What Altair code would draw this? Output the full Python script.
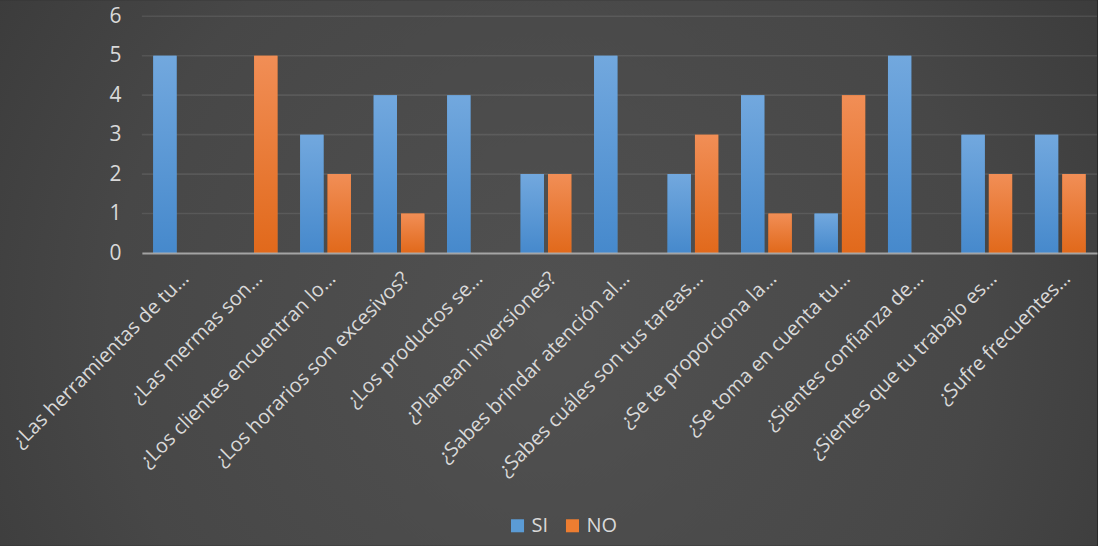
import altair as alt
import pandas as pd

# Survey questions (x categories) and answer counts per series
preguntas = [
    "¿Las herramientas de tu…",
    "¿Las mermas son…",
    "¿Los clientes encuentran lo…",
    "¿Los horarios son excesivos?",
    "¿Los productos se…",
    "¿Planean inversiones?",
    "¿Sabes brindar atención al…",
    "¿Sabes cuáles son tus tareas…",
    "¿Se te proporciona la…",
    "¿Se toma en cuenta tu…",
    "¿Sientes confianza de…",
    "¿Sientes que tu trabajo es…",
    "¿Sufre frecuentes…",
]
si = [5, 0, 3, 4, 4, 2, 5, 2, 4, 1, 5, 3, 3]
no = [0, 5, 2, 1, 0, 2, 0, 3, 1, 4, 0, 2, 2]
series = ["SI", "NO"]
colores = ["#5b9bd5", "#ed7d31"]
y_ticks = [0, 1, 2, 3, 4, 5, 6]

rows = []
for p, a, b in zip(preguntas, si, no):
    rows.append({"pregunta": p, "serie": "SI", "valor": a})
    rows.append({"pregunta": p, "serie": "NO", "valor": b})
df = pd.DataFrame(rows)

W, H = 956, 237
LEFT, TOP = 142, 16
TEXT = "#d9d9d9"

x_enc = alt.X(
    "pregunta:N",
    sort=preguntas,
    scale=alt.Scale(paddingInner=0.31, paddingOuter=0.155),
    axis=alt.Axis(
        title=None, labelAngle=-45, labelAlign="right", labelBaseline="top",
        labelFontSize=20, labelColor=TEXT, labelPadding=15, labelLimit=0,
        ticks=False, domain=True, domainColor="#b4b4b4", domainWidth=2,
        domainOpacity=0.85, zindex=1,
    ),
)
xo_enc = alt.XOffset(
    "serie:N", sort=series,
    scale=alt.Scale(domain=series, paddingInner=0.15, paddingOuter=0),
)
y_enc = alt.Y(
    "valor:Q",
    scale=alt.Scale(domain=[0, 6], nice=False),
    axis=alt.Axis(
        title=None, values=y_ticks, grid=False, domain=False, ticks=False,
        labelFontSize=21, labelColor=TEXT, labelPadding=21, zindex=1,
    ),
)

# Chart background: soft radial vignette
fondo = alt.Chart(pd.DataFrame({"k": [0]})).mark_rect(
    fill=alt.RadialGradient(
        gradient="radial",
        stops=[
            alt.GradientStop(color="#515151", offset=0),
            alt.GradientStop(color="#474747", offset=0.4),
            alt.GradientStop(color="#3b3b3b", offset=0.6),
            alt.GradientStop(color="#2c2c2c", offset=0.85),
            alt.GradientStop(color="#262626", offset=1),
        ],
        x1=0.5, y1=0.55, r1=0, x2=0.5, y2=0.55, r2=1,
    )
).encode(
    x=alt.value(-LEFT), x2=alt.value(W + 0),
    y=alt.value(-TOP), y2=alt.value(546 - TOP),
)

# Horizontal gridlines
grid = alt.Chart(pd.DataFrame({"valor": y_ticks[1:]})).mark_rule(
    color="#ffffff", opacity=0.09, strokeWidth=1.6
).encode(y=y_enc)

base = alt.Chart(df).encode(x=x_enc, xOffset=xo_enc, y=y_enc)

# Soft shadow on the right of each bar
sombra = base.mark_bar(
    xOffset=5,
    fill=alt.LinearGradient(
        gradient="linear",
        stops=[
            alt.GradientStop(color="rgba(0,0,0,0.30)", offset=0),
            alt.GradientStop(color="rgba(0,0,0,0.30)", offset=0.7),
            alt.GradientStop(color="rgba(0,0,0,0)", offset=1),
        ],
        x1=0, y1=0, x2=1, y2=0,
    ),
).transform_filter("datum.valor > 0")

barras = base.mark_bar().encode(
    color=alt.Color(
        "serie:N",
        scale=alt.Scale(domain=series, range=colores),
        legend=alt.Legend(
            title=None, orient="none", direction="horizontal",
            legendX=366, legendY=500, symbolType="square", symbolSize=170,
            symbolStrokeWidth=0, labelFontSize=20, labelColor=TEXT,
            columnPadding=14, labelOffset=4,
        ),
    )
).transform_filter("datum.valor > 0")


def degradado(top, bottom):
    return alt.LinearGradient(
        gradient="linear",
        stops=[alt.GradientStop(color=top, offset=0),
               alt.GradientStop(color=bottom, offset=1)],
        x1=0, y1=0, x2=0, y2=1,
    )


barras_si = base.mark_bar(fill=degradado("#72a8de", "#4689cc")).transform_filter(
    "datum.serie == 'SI' && datum.valor > 0")
barras_no = base.mark_bar(fill=degradado("#f18e56", "#e1691b")).transform_filter(
    "datum.serie == 'NO' && datum.valor > 0")

chart = alt.layer(fondo, grid, sombra, barras, barras_si, barras_no).properties(
    width=W, height=H, padding=0, background="#2a2a2a",
).configure(font="Open Sans").configure_view(stroke=None)

chart.save("out.html", embed_options={"renderer": "svg", "actions": False})
